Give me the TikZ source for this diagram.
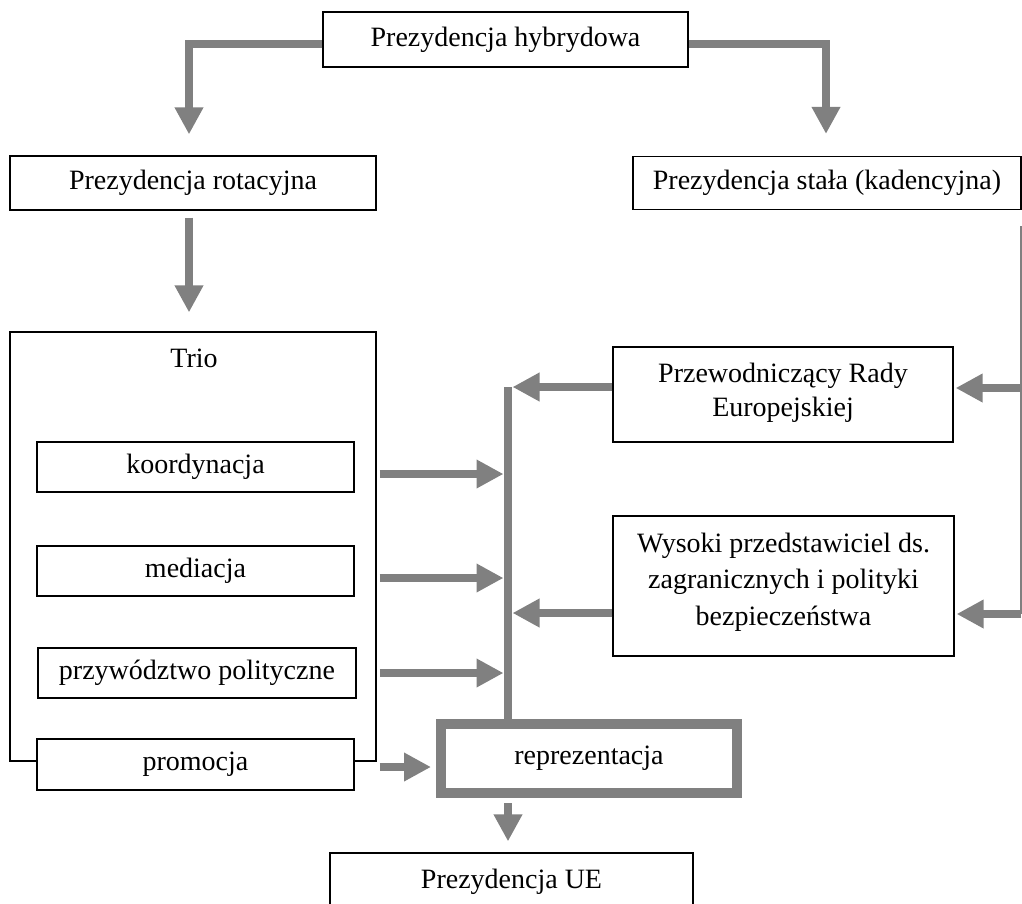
\documentclass[tikz,border=0pt]{standalone}
\usepackage{fontspec}
\setmainfont{Liberation Serif}
\usetikzlibrary{arrows.meta,calc}
\definecolor{ag}{RGB}{128,128,128}
\begin{document}
\begin{tikzpicture}[x=1pt,y=-1pt,
  box/.style={draw=black, line width=1.2pt, fill=white, inner sep=0pt,
    align=center, font=\fontsize{28}{35}\selectfont},
  lbl/.style={inner sep=0pt, font=\fontsize{28}{35}\selectfont},
  arr/.style={draw=ag, line width=8.5pt, line join=miter,
    -{Triangle[width=27pt,length=27pt]}},
  bar/.style={draw=ag, line width=8.5pt},
  thin/.style={draw=ag, line width=2pt}]
\useasboundingbox (0,0) rectangle (1022,903);

% boxes
\node[box, minimum width=365pt, minimum height=55pt] (hyb) at (505.5,39.5) {Prezydencja hybrydowa};
\node[box, minimum width=366pt, minimum height=54pt] (rot) at (193,183) {Prezydencja rotacyjna};
\node[box, minimum width=388pt, minimum height=53pt] (sta) at (827,183) {Prezydencja stała (kadencyjna)};
\node[box, minimum width=366pt, minimum height=429pt] (trio) at (193,546.5) {};
\node[lbl] (triolbl) at (194,358.5) {Trio};
\node[box, minimum width=317pt, minimum height=50pt] (koord) at (195.5,467) {koordynacja};
\node[box, minimum width=317pt, minimum height=50pt] (med) at (195.5,571) {mediacja};
\node[box, minimum width=318pt, minimum height=50pt] (prz) at (197,673) {przywództwo polityczne};
\node[box, minimum width=317pt, minimum height=51pt] (prom) at (195.5,764.5) {promocja};
\node[box, minimum width=340pt, minimum height=95pt, font=\fontsize{28}{34}\selectfont, text depth=10pt] (przew) at (783,394.5) {Przewodniczący Rady\\Europejskiej};
\node[box, minimum width=341pt, minimum height=140pt, font=\fontsize{28}{36.5}\selectfont, text depth=14pt] (wys) at (783.5,586) {Wysoki przedstawiciel ds.\\zagranicznych i polityki\\bezpieczeństwa};
\node[box, draw=ag, line width=10pt, minimum width=296pt, minimum height=69pt] (rep) at (589,758.5) {reprezentacja};
\node[box, minimum width=363pt, minimum height=57pt] (ue) at (511.5,881.5) {Prezydencja UE};

% coordinates
\coordinate (bus) at (508,387);
\coordinate (rtop) at (1021,226);
\coordinate (r1) at (1021,388);
\coordinate (r2) at (1021,614);

% top split
\draw[arr] ($(hyb.west)+(0,4.5)$) -| ($(rot.north)+(-4,-21)$);
\draw[arr] ($(hyb.east)+(0,4.5)$) -| ($(sta.north)+(-1,-22)$);
\draw[arr] ($(rot.south)+(-4,7)$) -- ($(trio.north)+(-4,-19)$);

% bus
\draw[bar] (bus) -- (bus |- rep.north);
\draw[arr] (przew.west |- bus) -- ($(bus)+(4.5,0)$);
\draw[arr] ($(wys.west |- r2)+(0,-1)$) -- ($(bus |- r2)+(4.5,-1)$);

% left arrows
\draw[arr] ($(trio.east |- koord)+(3,7)$) -- ($(bus |- koord)+(-4.5,7)$);
\draw[arr] ($(trio.east |- med)+(3,7)$) -- ($(bus |- med)+(-4.5,7)$);
\draw[arr] ($(trio.east |- prz)+(3,0)$) -- ($(bus |- prz)+(-4.5,0)$);
\draw[arr] ($(prom.east)+(25,2.5)$) -- ($(rep.west)+(-5,8.5)$);

% down to UE
\draw[arr] ($(bus |- rep.south)+(0,5)$) -- ($(bus |- ue.north)+(0,-11)$);

% right side
\draw[thin] (rtop) -- (r2);
\draw[arr] (r1) -- ($(przew.east |- r1)+(2,0)$);
\draw[arr] (r2) -- ($(wys.east |- r2)+(2,0)$);
\end{tikzpicture}
\end{document}
